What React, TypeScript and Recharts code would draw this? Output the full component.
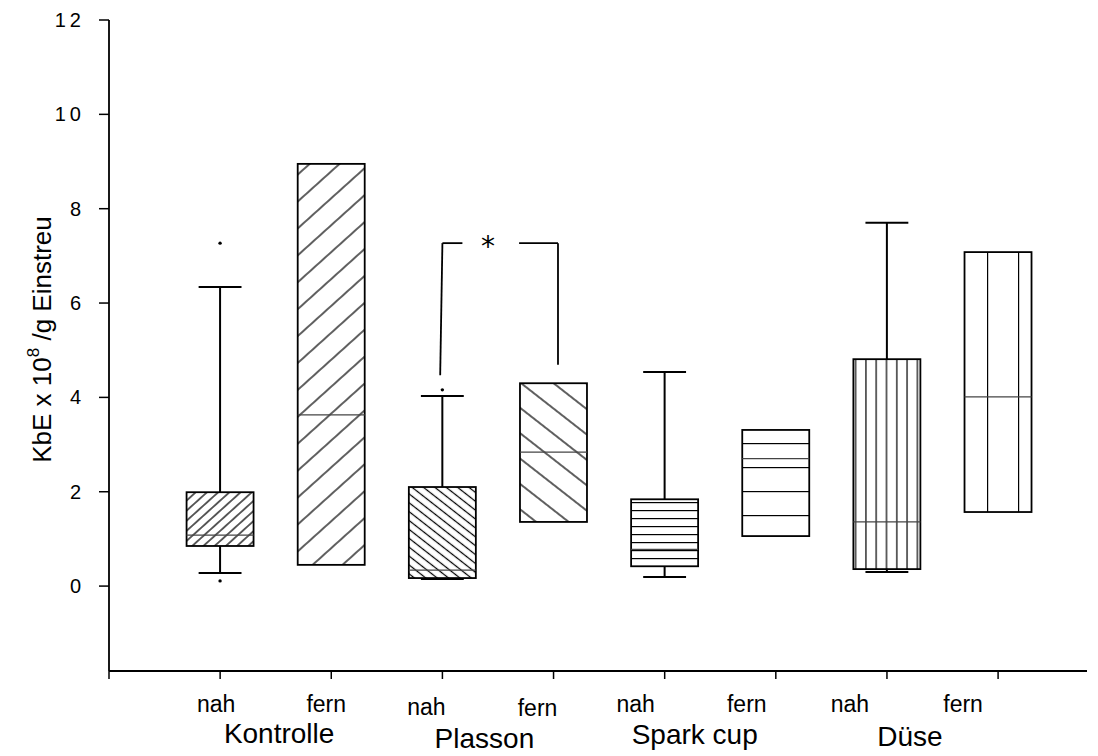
import React from 'react';
import { ComposedChart, Bar, XAxis, YAxis, ReferenceLine, ReferenceDot } from 'recharts';

// ---------- data ----------
const positions = [1, 2, 3, 4, 5, 6, 7, 8];
const subLabels = ['nah', 'fern', 'nah', 'fern', 'nah', 'fern', 'nah', 'fern'];
const groupLabels = ['Kontrolle', 'Plasson', 'Spark cup', 'Düse'];
const q1 = [0.85, 0.45, 0.17, 1.36, 0.42, 1.06, 0.36, 1.57];
const q3 = [1.99, 8.95, 2.1, 4.3, 1.84, 3.31, 4.81, 7.08];
const medians = [1.08, 3.63, 0.34, 2.84, 0.78, 2.7, 1.36, 4.01];
const whiskerLow: (number | null)[] = [0.28, null, 0.15, null, 0.19, null, 0.3, null];
const whiskerHigh: (number | null)[] = [6.34, null, 4.03, null, 4.54, null, 7.7, null];
const outliers: number[][] = [[7.27, 0.11], [], [4.16], [], [], [], [], []];
const yTicks = [0, 2, 4, 6, 8, 10, 12];
const xTicks = [0, 1, 2, 3, 4, 5, 6, 7, 8];
const bracketLeft = [{ x: 2.98, y: 4.47 }, { x: 3.0, y: 7.27 }];
const bracketLeftTop = [{ x: 3.0, y: 7.27 }, { x: 3.18, y: 7.27 }];
const bracketRightTop = [{ x: 3.69, y: 7.27 }, { x: 4.04, y: 7.27 }];
const bracketRight = [{ x: 4.04, y: 7.27 }, { x: 4.04, y: 4.69 }];
const starPos = { x: 3.41, y: 7.27 };

// ---------- styles ----------
type Pat = { kind: 'up' | 'down' | 'h' | 'v'; s: number; off: number };
const patterns: Pat[] = [
  { kind: 'up', s: 7.5, off: 0 },
  { kind: 'up', s: 20, off: 0 },
  { kind: 'down', s: 7, off: 0 },
  { kind: 'down', s: 20, off: 0 },
  { kind: 'h', s: 8, off: 3 },
  { kind: 'h', s: 24, off: 13 },
  { kind: 'v', s: 10.3, off: 2 },
  { kind: 'v', s: 31, off: 23 },
];
const subDx = [-4, -5, -16, -16, -29, -29, -37, -35];
const subDy = [0, 0, 3, 4, 0, 0, 0, 0];
const groupDx = [59, 42, 30, 23];
const groupDy = [0, 5, 1, 3];
const FONT = '"Liberation Sans", Arial, Helvetica, sans-serif';

const data = positions.map((pos, i) => ({
  id: i,
  pos,
  range: [q1[i], q3[i]],
  q1: q1[i],
  q3: q3[i],
  median: medians[i],
  lo: whiskerLow[i],
  hi: whiskerHigh[i],
  out: outliers[i],
}));

const BoxShape = (props: any) => {
  const { x, y, width, height, payload } = props;
  const d = payload;
  const k = height / (d.q3 - d.q1);
  const py = (v: number) => y + (d.q3 - v) * k;
  const cx = x + width / 2;
  const capHalf = width * 0.32;
  const p = patterns[d.id];
  const pid = `boxpat${d.id}`;
  let pattern: React.ReactNode = null;
  if (p.kind === 'up' || p.kind === 'down') {
    const ang = p.kind === 'up' ? -42 : 38;
    pattern = (
      <pattern id={pid} patternUnits="userSpaceOnUse" width={p.s} height={p.s}
        patternTransform={`translate(${x},${y + height}) rotate(${ang})`}>
        <line x1={-1} y1={p.s / 2} x2={p.s + 1} y2={p.s / 2} stroke="#000" strokeWidth={1.25} />
      </pattern>
    );
  } else if (p.kind === 'h') {
    pattern = (
      <pattern id={pid} patternUnits="userSpaceOnUse" width={20} height={p.s}
        patternTransform={`translate(0,${Math.round(y + p.off - p.s / 2)})`}>
        <rect x={0} y={Math.floor(p.s / 2)} width={20} height={1.2} fill="#000" />
      </pattern>
    );
  } else {
    pattern = (
      <pattern id={pid} patternUnits="userSpaceOnUse" width={p.s} height={20}
        patternTransform={`translate(${Math.round(x + p.off - p.s / 2)},0)`}>
        <rect x={Math.floor(p.s / 2)} y={0} width={1.2} height={20} fill="#000" />
      </pattern>
    );
  }
  return (
    <g>
      <defs>{pattern}</defs>
      {d.hi != null && (
        <g stroke="#000" strokeWidth={2}>
          <line x1={cx} y1={py(d.hi)} x2={cx} y2={y} />
          <line x1={cx - capHalf} y1={py(d.hi)} x2={cx + capHalf} y2={py(d.hi)} />
        </g>
      )}
      {d.lo != null && (
        <g stroke="#000" strokeWidth={2}>
          <line x1={cx} y1={y + height} x2={cx} y2={py(d.lo)} />
          <line x1={cx - capHalf} y1={py(d.lo)} x2={cx + capHalf} y2={py(d.lo)} />
        </g>
      )}
      <rect x={x} y={y} width={width} height={height} fill="#fff" />
      <rect x={x} y={y} width={width} height={height} fill={`url(#${pid})`} stroke="#000" strokeWidth={1.8} />
      <line x1={x} y1={py(d.median)} x2={x + width} y2={py(d.median)} stroke="#444" strokeWidth={1.2} />
      {d.out.map((v: number, j: number) => (
        <circle key={j} cx={cx} cy={py(v)} r={1.7} fill="#000" />
      ))}
    </g>
  );
};

const XTick = (props: any) => {
  const { x, y, payload } = props;
  const v = payload.value;
  if (v === 0) return null;
  const i = v - 1;
  const base = y;
  return (
    <g fontFamily={FONT} fill="#000">
      <text x={x + subDx[i]} y={base + 31 + subDy[i]} textAnchor="middle" fontSize={23}>
        {subLabels[i]}
      </text>
      {i % 2 === 0 && (
        <text x={x + groupDx[i / 2]} y={base + 62 + groupDy[i / 2]} textAnchor="middle" fontSize={28}>
          {groupLabels[i / 2]}
        </text>
      )}
    </g>
  );
};

const YTick = (props: any) => {
  const { x, y, payload } = props;
  const s = String(payload.value);
  const ls = s.length > 1 ? 4 : 0;
  return (
    <text x={x + ls} y={y + 7} textAnchor="end" fontSize={20} fontFamily={FONT}
      letterSpacing={ls} fill="#000">
      {s}
    </text>
  );
};

const YLabel = (props: any) => {
  const vb = props.viewBox || { x: 0, y: 0, width: 0, height: 0 };
  const lx = vb.x + 43;
  const ly = vb.y + vb.height / 2 - 6;
  return (
    <text x={lx} y={ly} transform={`rotate(-90 ${lx} ${ly})`} textAnchor="middle"
      fontSize={26} fontFamily={FONT} fill="#000">
      KbE x 10<tspan fontSize={17} dy={-12}>8</tspan><tspan dy={12}> /g Einstreu</tspan>
    </text>
  );
};

const Star = (props: any) => (
  <text x={props.cx} y={props.cy + 13} textAnchor="middle" fontSize={28}
    fontFamily='"DejaVu Sans", sans-serif' fill="#000">*</text>
);

export default function App() {
  return (
    <ComposedChart width={1090} height={748} data={data}
      margin={{ top: 12, right: 11, left: 0, bottom: 0 }}>
      <XAxis type="number" dataKey="pos" domain={[0, 8.8]} ticks={xTicks} height={85}
        tickSize={8} tickLine={{ stroke: '#000', strokeWidth: 1.5 }}
        axisLine={{ stroke: '#000', strokeWidth: 1.8 }} tick={<XTick />} interval={0}
        allowDataOverflow />
      <YAxis type="number" domain={[-1.8, 12]} ticks={yTicks} width={101} tickSize={10}
        tickMargin={18} tickLine={{ stroke: '#000', strokeWidth: 1.5 }}
        axisLine={{ stroke: '#000', strokeWidth: 1.8 }} tick={<YTick />} interval={0}
        allowDataOverflow label={<YLabel />} />
      <Bar dataKey="range" barSize={67} shape={<BoxShape />} isAnimationActive={false} />
      <ReferenceLine segment={bracketLeft} stroke="#000" strokeWidth={1.8} />
      <ReferenceLine segment={bracketLeftTop} stroke="#000" strokeWidth={1.8} />
      <ReferenceLine segment={bracketRightTop} stroke="#000" strokeWidth={1.8} />
      <ReferenceLine segment={bracketRight} stroke="#000" strokeWidth={1.8} />
      <ReferenceDot x={starPos.x} y={starPos.y} r={0} shape={<Star />} />
    </ComposedChart>
  );
}
